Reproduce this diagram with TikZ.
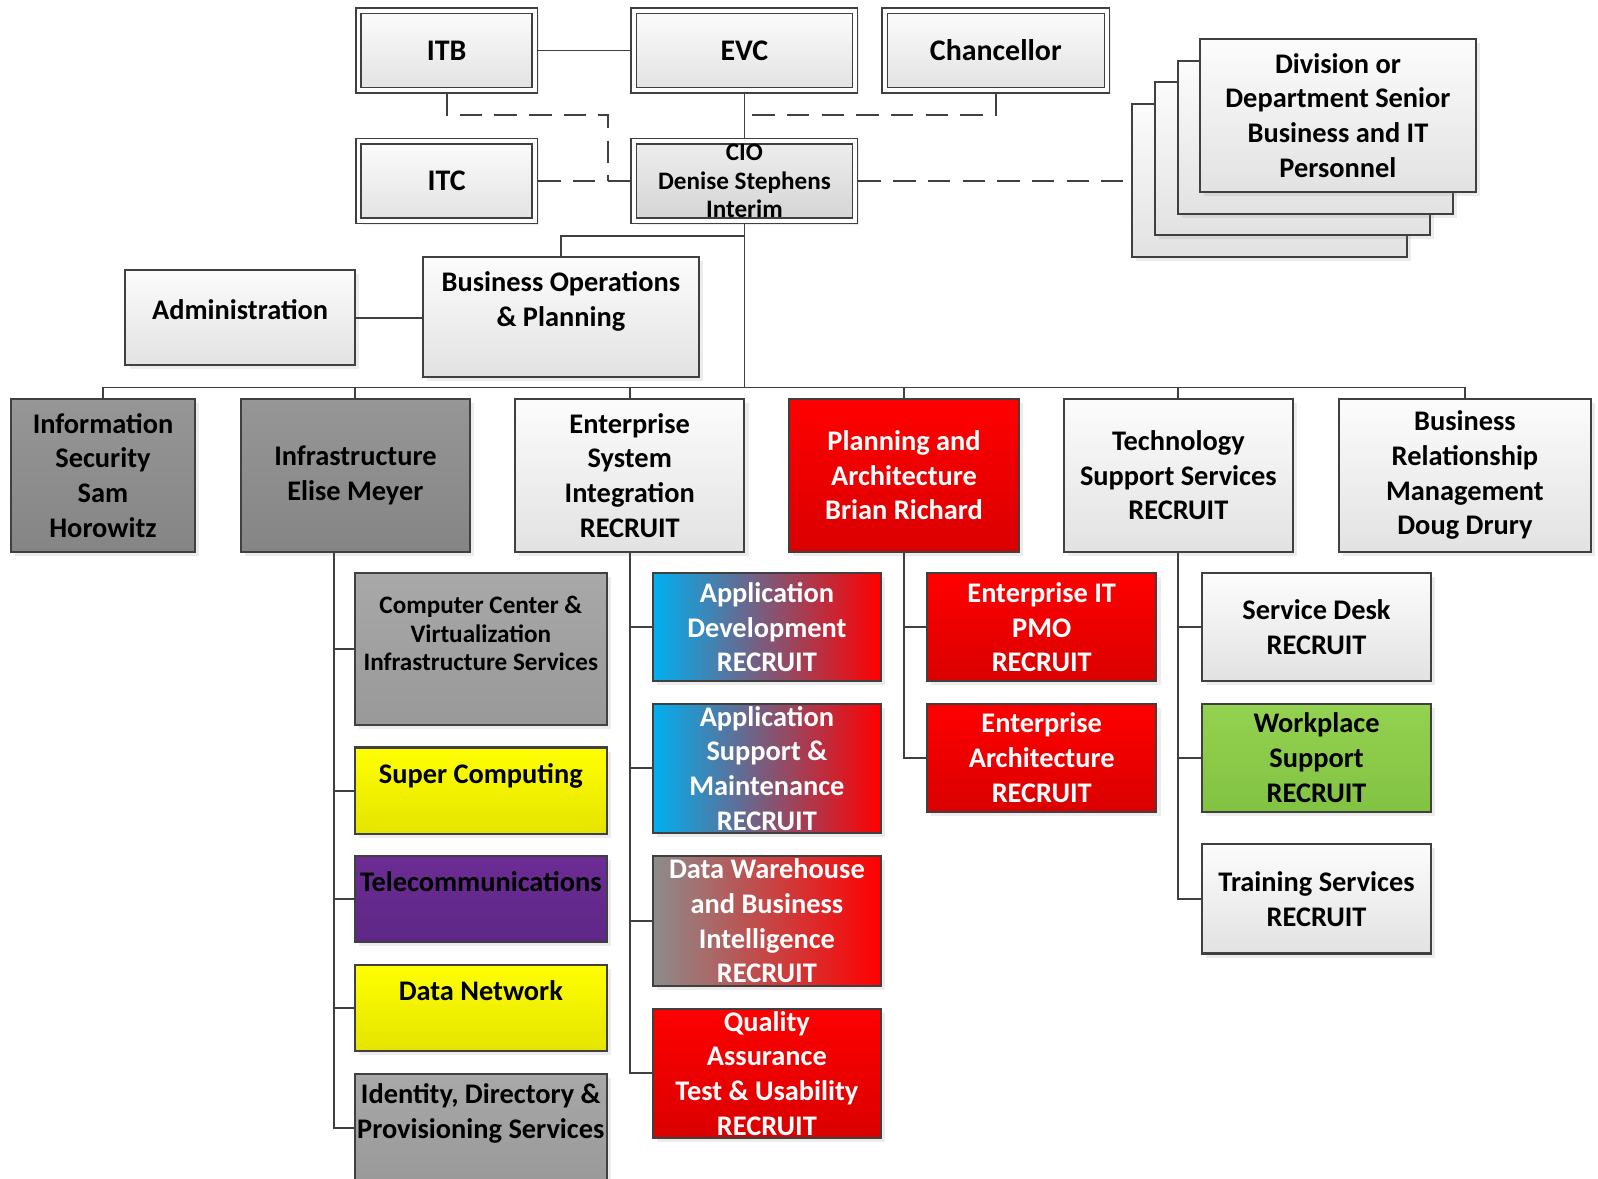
\documentclass[tikz,border=0pt]{standalone}
\usepackage{fontspec}
\setmainfont{Carlito}
\usetikzlibrary{shadows}
\definecolor{linec}{HTML}{404040}
\definecolor{lighttop}{HTML}{FCFCFC}
\definecolor{lightbot}{HTML}{E2E2E2}
\definecolor{ciotop}{HTML}{EEEEEE}
\definecolor{ciobot}{HTML}{D4D4D4}
\definecolor{darktop}{HTML}{969696}
\definecolor{darkbot}{HTML}{858585}
\definecolor{midtop}{HTML}{A8A8A8}
\definecolor{midbot}{HTML}{999999}
\definecolor{redtop}{HTML}{FF0000}
\definecolor{redbot}{HTML}{DA0000}
\definecolor{yeltop}{HTML}{FFFF00}
\definecolor{yelbot}{HTML}{E4E400}
\definecolor{purtop}{HTML}{6C2C94}
\definecolor{purbot}{HTML}{5E2786}
\definecolor{grntop}{HTML}{94D251}
\definecolor{grnbot}{HTML}{82C242}
\definecolor{bluel}{HTML}{00B0F0}
\definecolor{grayl}{HTML}{8C8C8C}
\tikzset{
    wh/.style 2 args={minimum width=#1*0.3pt, minimum height=#2*0.3pt},
    box/.style={draw=linec, line width=0.6pt, inner sep=0pt, align=center,
        drop shadow={shadow xshift=1.2pt, shadow yshift=-1.2pt, opacity=0.15}},
    light/.style={box, top color=lighttop, bottom color=lightbot},
    dbl/.style={light, double, double distance=1.1pt, line width=0.45pt, outer sep=1pt,
        font=\bfseries\fontsize{8.8}{10.2}\selectfont},
    ciobox/.style={dbl, top color=ciotop, bottom color=ciobot},
    dark/.style={box, top color=darktop, bottom color=darkbot},
    midgray/.style={box, top color=midtop, bottom color=midbot},
    redbox/.style={box, top color=redtop, bottom color=redbot, text=white},
    yelbox/.style={box, top color=yeltop, bottom color=yelbot},
    purbox/.style={box, top color=purtop, bottom color=purbot},
    grnbox/.style={box, top color=grntop, bottom color=grnbot},
    bluered/.style={box, left color=bluel, right color=redtop, text=white},
    grayred/.style={box, left color=grayl, right color=redtop, text=white},
    small/.style={font=\bfseries\fontsize{7.4}{8.4}\selectfont},
    hd/.style={anchor=north, inner sep=0pt, align=center, yshift=-#1},
    wire/.style={draw=linec, line width=0.55pt},
    dashwire/.style={wire, dash pattern=on 6.6pt off 3.6pt}
}

\begin{document}
\begin{tikzpicture}[x=0.3pt, y=-0.3pt, font=\bfseries\fontsize{8.35}{10.2}\selectfont]
\useasboundingbox (0,0) rectangle (1567,1156);

\node[dbl, wh={173}{78}] (itb) at (438,49.5) {ITB};
\node[dbl, wh={217}{78}] (evc) at (730,49.5) {EVC};
\node[dbl, wh={218}{78}] (chan) at (976.5,49.5) {Chancellor};
\node[dbl, wh={173}{78}] (itc) at (438,177.5) {ITC};
\node[ciobox, small, wh={217}{78}] (cio) at (730,177.5) {CIO\\Denise Stephens\\Interim};

\foreach \i/\x/\y in {4/1245/177, 3/1267.5/155.5, 2/1290/134.5}
    \node[light, wh={270}{150}] (div\i) at (\x,\y) {};
\node[light, wh={270}{150}] (div1) at (1312,113) {Division or\\Department Senior\\Business and IT\\Personnel};

\node[light, wh={225}{93}, label={[hd=8.6pt]north:Administration}] (admin) at (235.5,311.5) {};
\node[light, wh={270}{118}, label={[hd=4.4pt]north:Business Operations\\\& Planning}] (busops) at (550,311) {};

\node[dark, wh={180}{150}] (infosec) at (101,466) {Information\\Security\\Sam\\Horowitz};
\node[dark, wh={225}{150}] (infra) at (348.5,466) {Infrastructure\\Elise Meyer};
\node[light, wh={225}{150}] (esi) at (617.5,466) {Enterprise\\System\\Integration\\RECRUIT};
\node[redbox, wh={225}{150}] (plan) at (886.5,466) {Planning and\\Architecture\\Brian Richard};
\node[light, wh={225}{150}] (tss) at (1155.5,466) {Technology\\Support Services\\RECRUIT};
\node[light, wh={247}{150}] (brm) at (1436.5,466) {Business\\Relationship\\Management\\Doug Drury};

\node[midgray, wh={247}{149}, label={[hd=6.9pt, small]north:Computer Center \&\\Virtualization\\Infrastructure Services}] (cc) at (471.5,636.5) {};
\node[yelbox, wh={247}{85}, label={[hd=4.8pt]north:Super Computing}] (supc) at (471.5,775.5) {};
\node[purbox, wh={247}{85}, label={[hd=4.8pt]north:Telecommunications}] (telec) at (471.5,881.5) {};
\node[yelbox, wh={247}{85}, label={[hd=4.8pt]north:Data Network}] (datanet) at (471.5,988.5) {};
\node[midgray, wh={247}{106}, label={[hd=3pt]north:{Identity, Directory \&\\Provisioning Services}}] (ident) at (471.5,1106) {};

\node[bluered, wh={224}{106}] (appdev) at (752,615) {Application\\Development\\RECRUIT};
\node[bluered, wh={224}{127}] (appsup) at (752,753.5) {Application\\Support \&\\Maintenance\\RECRUIT};
\node[grayred, wh={224}{128}] (dwbi) at (752,903) {Data Warehouse\\and Business\\Intelligence\\RECRUIT};
\node[redbox, wh={224}{127}] (qa) at (752,1052.5) {Quality\\Assurance\\Test \& Usability\\RECRUIT};

\node[redbox, wh={225}{106}] (eitpmo) at (1021.5,615) {Enterprise IT\\PMO\\RECRUIT};
\node[redbox, wh={225}{106}] (earch) at (1021.5,743) {Enterprise\\Architecture\\RECRUIT};

\node[light, wh={224}{106}] (sdesk) at (1291,615) {Service Desk\\RECRUIT};
\node[grnbox, wh={224}{106}] (wplace) at (1291,743) {Workplace\\Support\\RECRUIT};
\node[light, wh={224}{107}] (train) at (1291,881.5) {Training Services\\RECRUIT};

\coordinate (j1) at (596,113);
\coordinate (j2) at (736,113);
\coordinate (j3) at (730,231);
\coordinate (bus) at (730,380);

\draw[wire] (itb) -- (evc);
\draw[wire] (evc) -- (cio);
\draw[dashwire] (itb.south) |- (j1) -- (j1 |- itc.east);
\draw[dashwire] (itc) -- (cio);
\draw[dashwire] (chan.south) |- (j2);
\draw[dashwire, shorten >=2.4pt] (cio.east) -- (cio.east -| div4.west);
\draw[wire] (cio) -- (bus);
\draw[wire] (j3) -| (busops);
\draw[wire] (admin.east) -- (admin.east -| busops.west);
\foreach \n in {infosec,infra,esi,plan,tss,brm}
    \draw[wire] (\n.north) |- (bus);
\foreach \c in {cc,supc,telec,datanet,ident}
    \draw[wire] ([xshift=-6.3pt]infra.south) |- (\c.west);
\foreach \c in {appdev,appsup,dwbi,qa}
    \draw[wire] (esi.south) |- (\c.west);
\foreach \c in {eitpmo,earch}
    \draw[wire] (plan.south) |- (\c.west);
\foreach \c in {sdesk,wplace,train}
    \draw[wire] (tss.south) |- (\c.west);
\end{tikzpicture}
\end{document}
